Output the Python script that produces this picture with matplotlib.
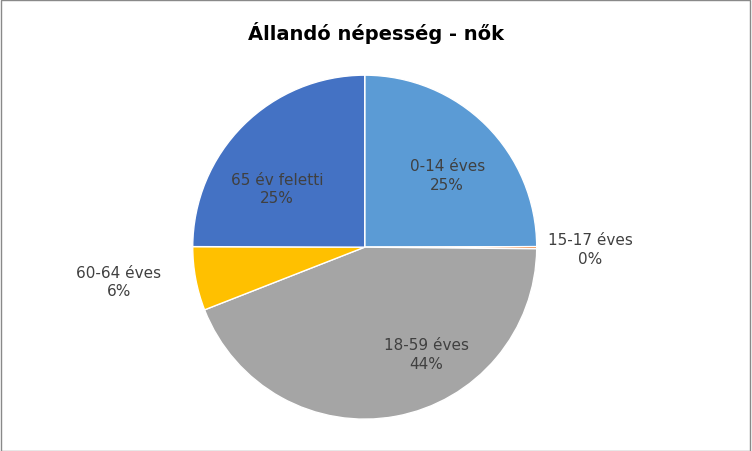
import matplotlib.pyplot as plt

categories = ["0-14 éves", "15-17 éves", "18-59 éves", "60-64 éves", "65 év feletti"]
values = [25.0, 0.2, 44.0, 6.0, 25.0]
pct_labels = ["25%", "0%", "44%", "6%", "25%"]
colors = ["#5B9BD5", "#ED7D31", "#A5A5A5", "#FFC000", "#4472C4"]
# label positions in pie units (radius = 1)
label_pos = [(0.48, 0.42), (1.31, -0.01), (0.36, -0.62), (-1.43, -0.20), (-0.51, 0.34)]

fig = plt.figure(figsize=(7.52, 4.52), dpi=100)
fig.patches.append(plt.Rectangle((0.001, 0.001), 0.997, 0.997, transform=fig.transFigure,
                                 fill=False, edgecolor="#898989", linewidth=1))
fig.text(0.5, 0.928, "Állandó népesség - nők", ha="center", va="center",
         fontsize=14, fontweight="bold", family="DejaVu Sans")

ax = fig.add_axes([0.485 - 0.2287, 0.451 - 0.3805, 0.4574, 0.761])
ax.pie(values, colors=colors, startangle=90, counterclock=False,
       wedgeprops=dict(edgecolor="white", linewidth=1))
ax.set_xlim(-1, 1)
ax.set_ylim(-1, 1)
ax.set_aspect("equal")
ax.axis("off")

for cat, pct, (x, y) in zip(categories, pct_labels, label_pos):
    ax.text(x, y, f"{cat}\n{pct}", ha="center", va="center", fontsize=11,
            color="#404040", linespacing=1.3, clip_on=False)

fig.savefig("out.png", dpi=100)
